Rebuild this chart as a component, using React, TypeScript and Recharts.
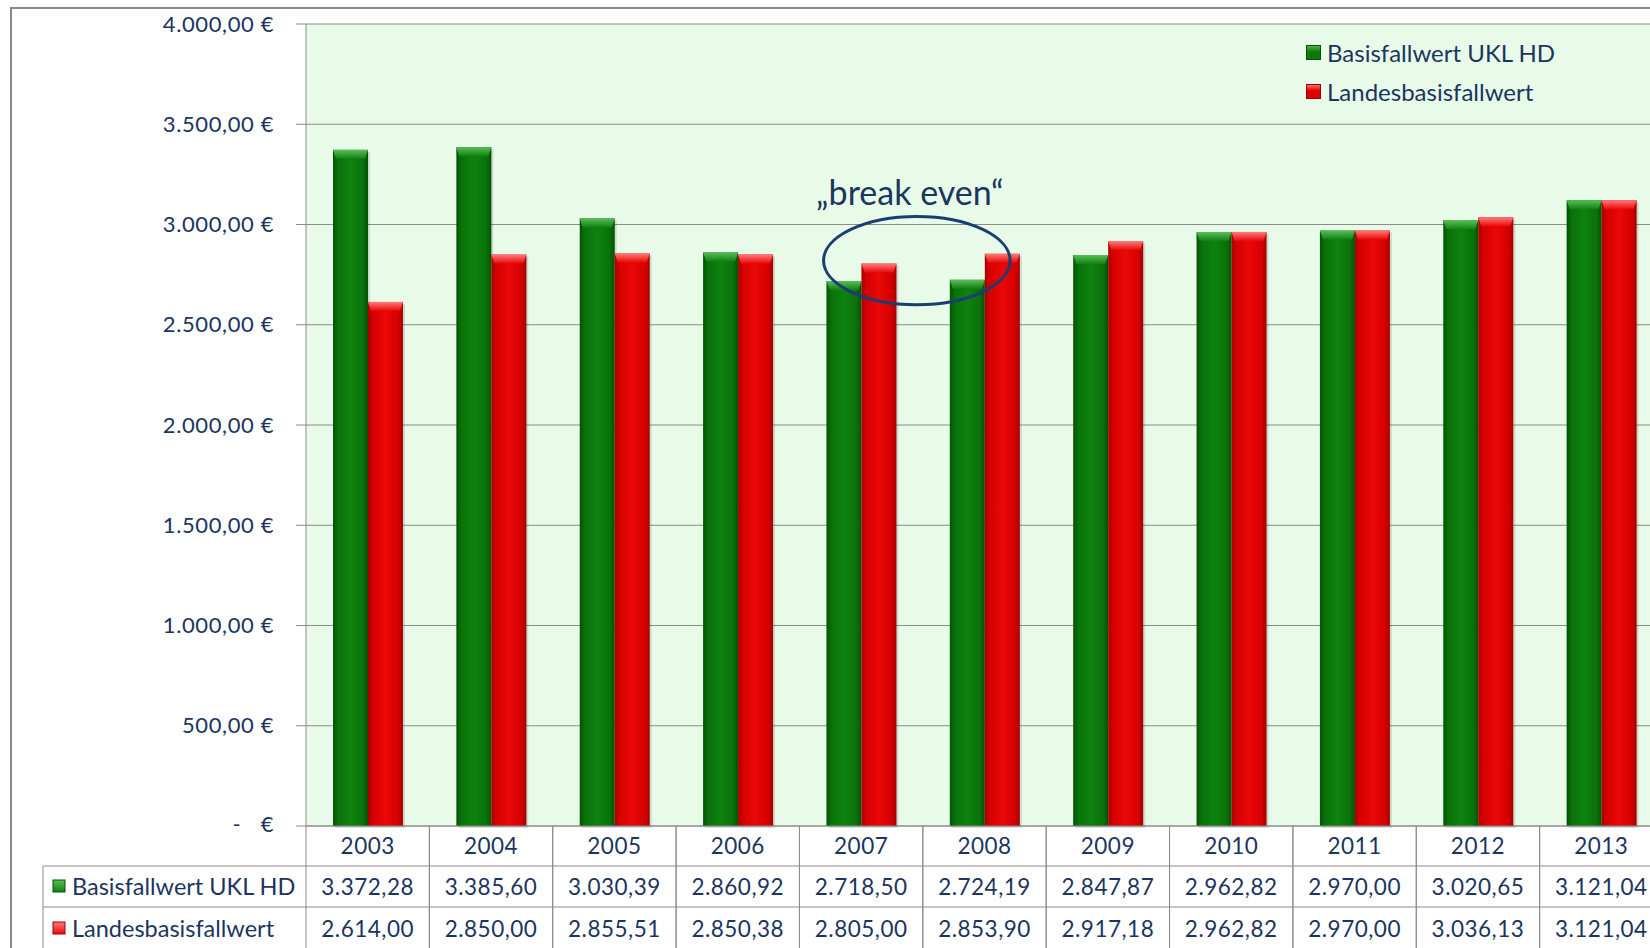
import React from 'react';
import { BarChart, Bar, XAxis, YAxis, CartesianGrid, Legend, ReferenceArea } from 'recharts';

const years = ['2003', '2004', '2005', '2006', '2007', '2008', '2009', '2010', '2011', '2012', '2013'];
const basisUkl = [3372.28, 3385.6, 3030.39, 2860.92, 2718.5, 2724.19, 2847.87, 2962.82, 2970.0, 3020.65, 3121.04];
const landesBasis = [2614.0, 2850.0, 2855.51, 2850.38, 2805.0, 2853.9, 2917.18, 2962.82, 2970.0, 3036.13, 3121.04];
const seriesNames = ['Basisfallwert UKL HD', 'Landesbasisfallwert'];
const yTicks = [0, 500, 1000, 1500, 2000, 2500, 3000, 3500, 4000];
const breakEvenYears = ['2007', '2008'];
const breakEvenBand = [2600, 3040];

const data = years.map((year, i) => ({ year, ukl: basisUkl[i], land: landesBasis[i] }));

const FONT = 'Lato, "Open Sans", sans-serif';
const NAVY = '#1b355f';
const LINE = '#8c8c8c';
const GREEN = '#0b7a0b';
const RED = '#dc0000';

// German number format: 3.372,28
const fmt = (v: number) => {
  const [int, dec] = v.toFixed(2).split('.');
  return int.replace(/\B(?=(\d{3})+(?!\d))/g, '.') + ',' + dec;
};

const bevelBar = (tone: 'g' | 'r') => (props: any) => {
  const { x, y, width, height } = props;
  if (!height || height <= 0) return <g />;
  const b = Math.min(9, height);
  return (
    <g>
      <rect x={x + 2} y={y + 2} width={width} height={height} fill="rgba(0,0,0,0.12)" />
      <rect x={x} y={y} width={width} height={height} fill={`url(#${tone}Body)`} />
      <path d={`M${x},${y} H${x + width} L${x + width - 3},${y + b} H${x + 3} Z`} fill={`url(#${tone}Top)`} />
    </g>
  );
};
const greenBar = bevelBar('g');
const redBar = bevelBar('r');

const Swatch = ({ color, size }: { color: string; size: number }) => (
  <span
    style={{
      display: 'inline-block',
      width: size,
      height: size,
      background: `linear-gradient(180deg, ${color === GREEN ? '#4fb04f' : '#ff6a6a'} 0%, ${color} 45%, ${color} 100%)`,
      border: `1px solid ${color === GREEN ? '#045204' : '#9a0000'}`,
      boxSizing: 'border-box',
    }}
  />
);

const LegendBox = ({ payload }: any) => (
  <div style={{ fontFamily: FONT, fontSize: 24, color: NAVY, lineHeight: '39px' }}>
    {(payload || []).map((p: any) => (
      <div key={p.value} style={{ display: 'flex', alignItems: 'center', gap: 6, whiteSpace: 'nowrap' }}>
        <Swatch color={p.color} size={15} />
        <span>{p.value}</span>
      </div>
    ))}
  </div>
);

const EuroTick = ({ x, y, payload }: any) => {
  const style = { fontFamily: FONT, fontSize: 22, fill: NAVY, letterSpacing: 0.6 };
  if (payload.value === 0) {
    return (
      <g>
        <text x={x - 37} y={y} dy={-3} textAnchor="middle" dominantBaseline="central" style={style}>-</text>
        <text x={x} y={y} dy={-3} textAnchor="end" dominantBaseline="central" style={style}>€</text>
      </g>
    );
  }
  return (
    <text x={x} y={y} dy={-1} textAnchor="end" dominantBaseline="central" style={style}>
      {fmt(payload.value)} €
    </text>
  );
};

// x-axis tick doubles as the data table below the plot
const TableTick = (props: any) => {
  const { x, y, payload, index, width, visibleTicksCount } = props;
  const half = payload.offset || (width && visibleTicksCount ? width / visibleTicksCount / 2 : 61.7);
  const row = data.find((d) => d.year === payload.value) || data[index];
  const l = x - half;
  const r = x + half;
  const r1 = y + 40;
  const r2 = y + 81;
  const bottom = y + 140;
  const txt = { fontFamily: FONT, fill: NAVY, letterSpacing: 0.5 };
  return (
    <g>
      <line x1={l} y1={y} x2={l} y2={bottom} stroke={LINE} />
      <line x1={r} y1={y} x2={r} y2={bottom} stroke={LINE} />
      <line x1={l} y1={r1} x2={r} y2={r1} stroke={LINE} />
      <line x1={l} y1={r2} x2={r} y2={r2} stroke={LINE} />
      <text x={x} y={y + 19} textAnchor="middle" dominantBaseline="central" style={{ ...txt, fontSize: 22.5 }}>
        {payload.value}
      </text>
      <text x={x} y={y + 60} textAnchor="middle" dominantBaseline="central" style={{ ...txt, fontSize: 22.5 }}>
        {fmt(row.ukl)}
      </text>
      <text x={x} y={y + 102} textAnchor="middle" dominantBaseline="central" style={{ ...txt, fontSize: 22.5 }}>
        {fmt(row.land)}
      </text>
      {index === 0 && (
        <g>
          <line x1={43} y1={r1} x2={l} y2={r1} stroke={LINE} />
          <line x1={43} y1={r2} x2={l} y2={r2} stroke={LINE} />
          <line x1={43} y1={r1} x2={43} y2={bottom} stroke={LINE} />
          {[GREEN, RED].map((c, i) => (
            <g key={c}>
              <rect x={53} y={(i ? y + 102 : y + 60) - 6} width={12} height={12} fill={i ? `url(#rTop)` : `url(#gTop)`} stroke={i ? '#9a0000' : '#045204'} />
              <text x={72} y={i ? y + 102 : y + 60} dominantBaseline="central" style={{ ...txt, fontSize: 23.5, letterSpacing: 0 }}>
                {seriesNames[i]}
              </text>
            </g>
          ))}
        </g>
      )}
    </g>
  );
};

const BreakEven = (props: any) => {
  const { x, y, width, height } = props;
  const cx = x + width / 2 - 6;
  return (
    <g>
      <ellipse cx={cx} cy={y + height / 2} rx={width * 0.378} ry={height / 2} fill="none" stroke="#1c3d70" strokeWidth={3} />
      <text x={cx - 7} y={y - 11} textAnchor="middle" style={{ fontFamily: FONT, fontSize: 34, fill: NAVY }}>
        „break even“
      </text>
    </g>
  );
};

export default function App() {
  return (
    <div style={{ position: 'fixed', inset: 0, overflow: 'hidden', background: '#fff' }}>
      <div
        style={{
          position: 'absolute',
          left: 10,
          top: 7,
          width: 1700,
          height: 1000,
          border: '2px solid #8a8a8a',
          boxShadow: '2px 2px 4px rgba(0,0,0,0.15)',
        }}
      />
      <div style={{ position: 'absolute', left: 0, top: 0 }}>
        <BarChart
          width={1680}
          height={948}
          data={data}
          margin={{ top: 24, right: 17, left: 0, bottom: 0 }}
          barGap={0}
          barSize={35}
        >
          <defs>
            <linearGradient id="gBody" x1="0" y1="0" x2="1" y2="0">
              <stop offset="0%" stopColor="#045204" />
              <stop offset="15%" stopColor="#0a720a" />
              <stop offset="50%" stopColor="#0e820e" />
              <stop offset="85%" stopColor="#0a720a" />
              <stop offset="100%" stopColor="#045204" />
            </linearGradient>
            <linearGradient id="gTop" x1="0" y1="0" x2="0" y2="1">
              <stop offset="0%" stopColor="#5cbc5c" />
              <stop offset="100%" stopColor="#0e820e" />
            </linearGradient>
            <linearGradient id="rBody" x1="0" y1="0" x2="1" y2="0">
              <stop offset="0%" stopColor="#a80000" />
              <stop offset="15%" stopColor="#d60000" />
              <stop offset="50%" stopColor="#ea0808" />
              <stop offset="85%" stopColor="#d60000" />
              <stop offset="100%" stopColor="#a80000" />
            </linearGradient>
            <linearGradient id="rTop" x1="0" y1="0" x2="0" y2="1">
              <stop offset="0%" stopColor="#ff7a7a" />
              <stop offset="100%" stopColor="#ea0808" />
            </linearGradient>
          </defs>
          <CartesianGrid vertical={false} stroke={LINE} fill="#e8fbe8" />
          <XAxis
            dataKey="year"
            height={122}
            tickLine={false}
            tickSize={0}
            tickMargin={0}
            axisLine={{ stroke: LINE }}
            tick={<TableTick />}
            interval={0}
          />
          <YAxis
            width={306}
            domain={[0, 4000]}
            ticks={yTicks}
            tickSize={10}
            tickMargin={22}
            tickLine={{ stroke: LINE }}
            axisLine={{ stroke: LINE }}
            tick={<EuroTick />}
          />
          <Legend
            layout="vertical"
            align="center"
            verticalAlign="middle"
            content={<LegendBox />}
            wrapperStyle={{ top: 33, left: 1306, width: 'auto' }}
          />
          <Bar dataKey="ukl" name={seriesNames[0]} fill={GREEN} shape={greenBar} isAnimationActive={false} />
          <Bar dataKey="land" name={seriesNames[1]} fill={RED} shape={redBar} isAnimationActive={false} />
          <ReferenceArea
            x1={breakEvenYears[0]}
            x2={breakEvenYears[1]}
            y1={breakEvenBand[0]}
            y2={breakEvenBand[1]}
            shape={BreakEven}
            zIndex={1500}
          />
        </BarChart>
      </div>
    </div>
  );
}
